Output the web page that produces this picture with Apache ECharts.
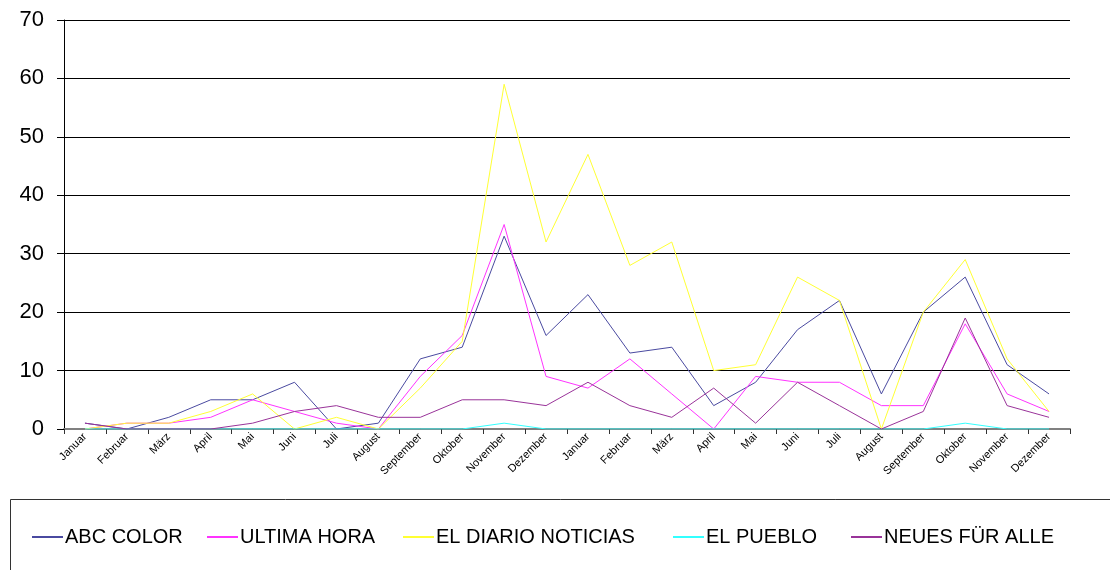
<!DOCTYPE html>
<html>
<head>
<meta charset="utf-8">
<script src="https://cdn.jsdelivr.net/npm/echarts@6/dist/echarts.min.js"></script>
<style>
  html, body { margin: 0; padding: 0; background: #fff; }
  #chart { width: 1110px; height: 570px; }
</style>
</head>
<body>
<div id="chart"></div>
<script>
// Monate (zwei Jahre)
var months = ['Januar', 'Februar', 'März', 'April', 'Mai', 'Juni', 'Juli', 'August',
  'September', 'Oktober', 'November', 'Dezember',
  'Januar', 'Februar', 'März', 'April', 'Mai', 'Juni', 'Juli', 'August',
  'September', 'Oktober', 'November', 'Dezember'];

var seriesNames = ['ABC COLOR', 'ULTIMA HORA', 'EL DIARIO NOTICIAS', 'EL PUEBLO', 'NEUES FÜR ALLE'];

var abcColor      = [1, 0, 2, 5, 5, 8, 0, 1, 12, 14, 33, 16, 23, 13, 14, 4, 8, 17, 22, 6, 20, 26, 11, 6];
var ultimaHora    = [0, 1, 1, 2, 5, 3, 1, 0, 9, 16, 35, 9, 7, 12, 6, 0, 9, 8, 8, 4, 4, 18, 6, 3];
var elDiario      = [0, 1, 1, 3, 6, 0, 2, 0, 7, 15, 59, 32, 47, 28, 32, 10, 11, 26, 22, 0, 20, 29, 12, 3];
var elPueblo      = [0, 0, 0, 0, 0, 0, 0, 0, 0, 0, 1, 0, 0, 0, 0, 0, 0, 0, 0, 0, 0, 1, 0, 0];
var neuesFuerAlle = [1, 0, 0, 0, 1, 3, 4, 2, 2, 5, 5, 4, 8, 4, 2, 7, 1, 8, 4, 0, 3, 19, 4, 2];

var yTicks = { min: 0, max: 70, interval: 10 };

var colors = ['#4a4aa0', '#ff33ff', '#ffff33', '#33ffff', '#993399'];
var font = 'Liberation Sans, Arial, sans-serif';
// linke Kante jedes Legendeneintrags
var legendLeft = [31, 206, 402, 672, 850];

function lineSeries(name, data) {
  return {
    name: name,
    type: 'line',
    symbol: 'none',
    animation: false,
    lineStyle: { width: 1 },
    data: data
  };
}

function legendItem(i) {
  return {
    left: legendLeft[i],
    top: 527,
    padding: 0,
    itemWidth: 31,
    itemHeight: 14,
    itemStyle: { opacity: 0 },
    textStyle: { fontFamily: font, fontSize: 20, color: '#000', padding: [0, 0, 0, -3] },
    data: [seriesNames[i]]
  };
}

var chart = echarts.init(document.getElementById('chart'));
var option = {
  animation: false,
  color: colors,
  textStyle: { fontFamily: font, color: '#000' },
  grid: { left: 64, right: 40, top: 20, bottom: 141, containLabel: false },
  graphic: [{
    type: 'rect',
    left: 8,
    top: 497,
    silent: true,
    shape: { width: 1130, height: 100 },
    style: { fill: 'none', stroke: '#333', lineWidth: 1 }
  }],
  legend: [legendItem(0), legendItem(1), legendItem(2), legendItem(3), legendItem(4)],
  xAxis: {
    type: 'category',
    boundaryGap: true,
    data: months,
    axisLine: { lineStyle: { color: '#808080', width: 2 } },
    axisTick: { show: true, length: 5, lineStyle: { color: '#333', width: 1 } },
    axisLabel: { rotate: 45, interval: 0, fontSize: 11, color: '#000', fontFamily: font, margin: 6 },
    splitLine: { show: false }
  },
  yAxis: {
    type: 'value',
    min: yTicks.min,
    max: yTicks.max,
    interval: yTicks.interval,
    axisLine: { show: true, lineStyle: { color: '#000', width: 1 } },
    axisTick: { show: true, length: 7, lineStyle: { color: '#000' } },
    axisLabel: { fontSize: 22, color: '#000', fontFamily: font, margin: 20 },
    splitLine: { show: true, lineStyle: { color: '#000', width: 1 } }
  },
  series: [
    lineSeries(seriesNames[0], abcColor),
    lineSeries(seriesNames[1], ultimaHora),
    lineSeries(seriesNames[2], elDiario),
    lineSeries(seriesNames[3], elPueblo),
    lineSeries(seriesNames[4], neuesFuerAlle)
  ]
};
chart.setOption(option);
</script>
</body>
</html>
